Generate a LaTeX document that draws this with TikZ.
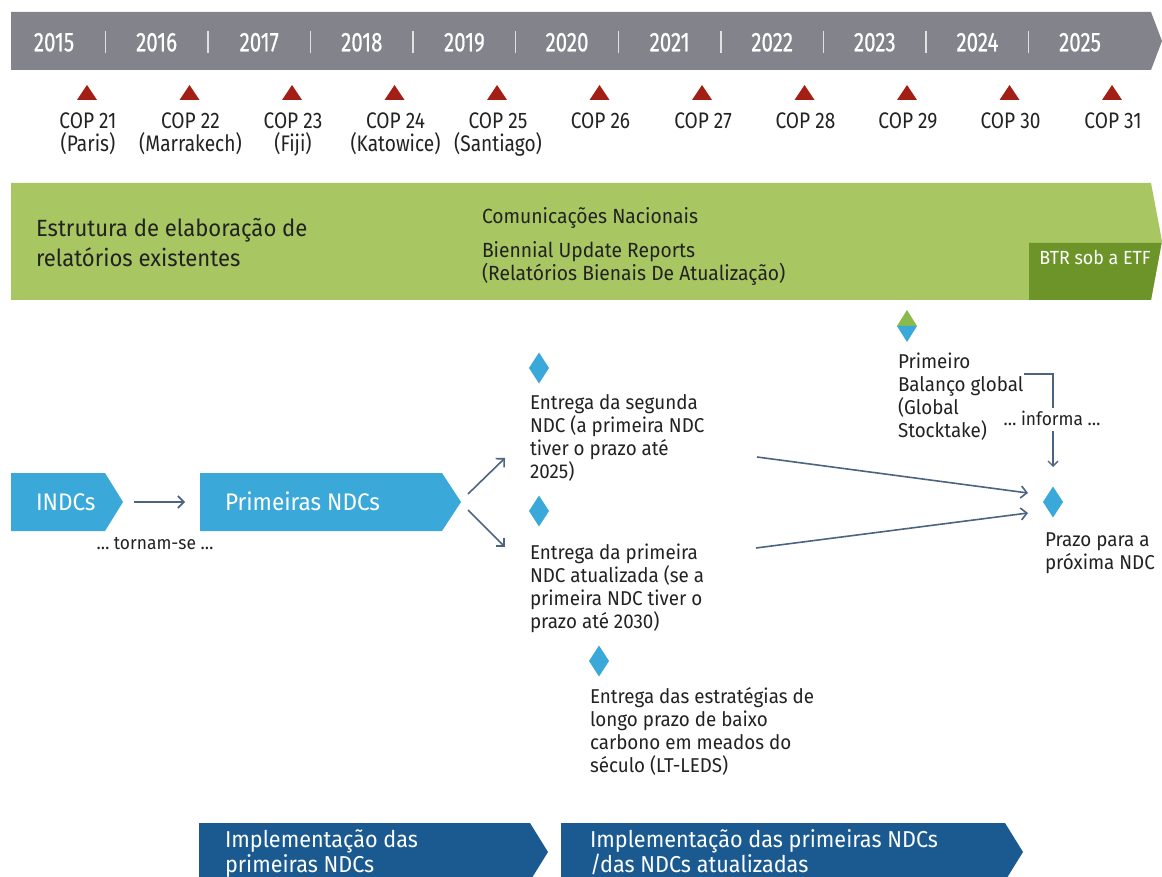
\documentclass[tikz,border=0pt]{standalone}
\usepackage{fontspec}
\setmainfont{Fira Sans}[FakeStretch=0.94]
\newfontfamily\condf[FakeStretch=0.85]{Fira Sans}
\newfontfamily\yearf[FakeStretch=0.76,FakeBold=0.5]{Fira Sans}
\usetikzlibrary{shapes.geometric,arrows.meta}
\definecolor{barGray}{RGB}{131,131,139}
\definecolor{copRed}{RGB}{163,30,20}
\definecolor{bandGreen}{RGB}{168,198,98}
\definecolor{btrGreen}{RGB}{108,148,40}
\definecolor{gsGreen}{RGB}{140,185,75}
\definecolor{lblue}{RGB}{58,168,216}
\definecolor{navy}{RGB}{26,90,145}
\definecolor{connCol}{RGB}{76,100,130}
\definecolor{txtDark}{RGB}{34,34,34}
\definecolor{sepLight}{RGB}{225,225,228}
\newcommand{\topstrut}{\rule{0pt}{0.8em}}
\begin{document}
\begin{tikzpicture}[x=1pt,y=-1pt,
  every node/.style={inner sep=0pt,outer sep=0pt},
  yearlbl/.style={text=white,font=\yearf\fontsize{27}{27}\selectfont,text height=18.6pt,text depth=0pt,anchor=center},
  coplbl/.style={text=txtDark,font=\condf\fontsize{22.5}{23}\selectfont,align=center,anchor=north},
  para/.style={text=txtDark,align=left,anchor=north west},
  fbody/.style={font=\fontsize{20}{23}\selectfont},
  fband/.style={font=\fontsize{20.5}{23}\selectfont},
  boxlbl/.style={text=white,anchor=west,font=\fontsize{24}{24}\selectfont,text height=16.6pt,text depth=0pt},
  smalllbl/.style={text=txtDark,font=\fontsize{18.5}{18.5}\selectfont,text height=12.7pt,text depth=0pt},
  implbl/.style={text=white,align=left,anchor=north west,font=\fontsize{23}{25}\selectfont},
  connarrow/.style={draw=connCol,line width=1.6pt,-{Straight Barb[length=6pt,width=12pt]}},
  connthin/.style={draw=connCol,line width=1.3pt},
  milestone/.style={diamond,fill=lblue,minimum width=20pt,minimum height=31pt},
]
\useasboundingbox (0,0) rectangle (1162,877);
\fill[white] (0,0) rectangle (1162,877);

% ---- year bar
\fill[barGray] (11,12) -- (1151,12) -- (1162,41) -- (1151,70) -- (11,70) -- cycle;
\foreach \yr [count=\i from 0] in {2015,...,2025} {
  \pgfmathsetmacro\xx{54+102.6*\i}
  \node[yearlbl] (y\yr) at (\xx,42) {\yr};
}
\foreach \i in {0,...,9} {
  \pgfmathsetmacro\xx{105.3+102.6*\i}
  \draw[sepLight,line width=1.5pt] (\xx,31) -- (\xx,53);
}

% ---- COPs
\foreach \lbl [count=\i from 0] in {{COP 21\\(Paris)},{COP 22\\(Marrakech)},{COP 23\\(Fiji)},{COP 24\\(Katowice)},{COP 25\\(Santiago)},{COP 26},{COP 27},{COP 28},{COP 29},{COP 30},{COP 31}} {
  \pgfmathsetmacro\xx{87+102.5*\i}
  \fill[copRed] (\xx-10,100) -- (\xx,85) -- (\xx+10,100) -- cycle;
  \node[coplbl] (cop\i) at (\xx+1,110.8) {\topstrut\lbl};
}

% ---- reporting band
\fill[bandGreen] (11,183) -- (1151,183) -- (1162,241) -- (1151,300) -- (11,300) -- cycle;
\fill[btrGreen] (1029,243) -- (1161.6,243) -- (1151,300) -- (1029,300) -- cycle;
\node[para,font=\fontsize{23.5}{30}\selectfont] (estr) at (36,217.3) {\topstrut Estrutura de elaboração de\\relatórios existentes};
\node[para,fband] (comn) at (482,206.7) {\topstrut Comunicações Nacionais};
\node[para,fband] (bur) at (482,240.7) {\topstrut Biennial Update Reports\\(Relatórios Bienais De Atualização)};
\node[text=white,font=\fontsize{19}{19}\selectfont,text height=13pt,text depth=0pt] (btr) at (1095,258) {BTR sob a ETF};

% ---- NDC boxes
\fill[lblue] (11,473) -- (105,473) -- (123,502) -- (105,531) -- (11,531) -- cycle;
\fill[lblue] (200,473) -- (442,473) -- (461,502) -- (442,531) -- (200,531) -- cycle;
\node[boxlbl] (indcs) at (36,502) {INDCs};
\node[boxlbl] (prim) at (225,502) {Primeiras NDCs};
\node[smalllbl] (torn) at (155,543) {… tornam-se …};
\coordinate (aIndA) at (134,502);
\coordinate (aIndB) at (185,502);
\draw[connarrow] (aIndA) -- (aIndB);

% ---- milestones
\node[milestone] (d1) at (539,368) {};
\node[milestone] (d2) at (539,511) {};
\node[milestone] (d3) at (599,661) {};
\node[milestone] (dnext) at (1053,502) {};
\node[diamond,minimum width=20pt,minimum height=32pt] (dgs) at (907,326) {};
\fill[gsGreen] (dgs.west) -- (dgs.north) -- (dgs.east) -- cycle;
\fill[lblue] (dgs.west) -- (dgs.south) -- (dgs.east) -- cycle;

\node[para,fbody] (e1) at (530,393.9) {\topstrut Entrega da segunda\\NDC (a primeira NDC\\tiver o prazo até\\2025)};
\node[para,fbody] (e2) at (530,543.9) {\topstrut Entrega da primeira\\NDC atualizada (se a\\primeira NDC tiver o\\prazo até 2030)};
\node[para,fbody] (lt) at (590,687.9) {\topstrut Entrega das estratégias de\\longo prazo de baixo\\carbono em meados do\\século (LT-LEDS)};
\node[para,fbody] (gst) at (898,352.9) {\topstrut Primeiro\\Balanço global\\(Global\\Stocktake)};
\node[para,fbody] (prazo) at (1045,530.9) {\topstrut Prazo para a\\próxima NDC};

% ---- connectors
\coordinate (b1s) at (468,494); \coordinate (b1e) at (505,458);
\coordinate (b2s) at (468,510); \coordinate (b2e) at (505,547);
\coordinate (l1s) at (757,457); \coordinate (l1e) at (1028,493);
\coordinate (l2s) at (756,548); \coordinate (l2e) at (1028,513);
\draw[connarrow] (b1s) -- (b1e);
\draw[connarrow] (b2s) -- (b2e);
\draw[connarrow] (l1s) -- (l1e);
\draw[connarrow] (l2s) -- (l2e);

\node[smalllbl] (inf) at (1052,419) {… informa …};
\coordinate (brA) at (1024,374);
\coordinate (brB) at (1053,408);
\coordinate (brC) at (1053,431);
\coordinate (brD) at (1053,467);
\draw[connthin] (brA) -| (brB);
\draw[connthin,-{Straight Barb[length=5pt,width=10pt]}] (brC) -- (brD);

% ---- implementation bars
\fill[navy] (199,823) -- (530,823) -- (548,852) -- (530,881) -- (199,881) -- cycle;
\fill[navy] (561,823) -- (1005,823) -- (1023,852) -- (1005,881) -- (561,881) -- cycle;
\node[implbl] (imp1) at (225,829.5) {\topstrut Implementação das\\primeiras NDCs};
\node[implbl] (imp2) at (590,829.5) {\topstrut Implementação das primeiras NDCs\\/das NDCs atualizadas};
\end{tikzpicture}
\end{document}
